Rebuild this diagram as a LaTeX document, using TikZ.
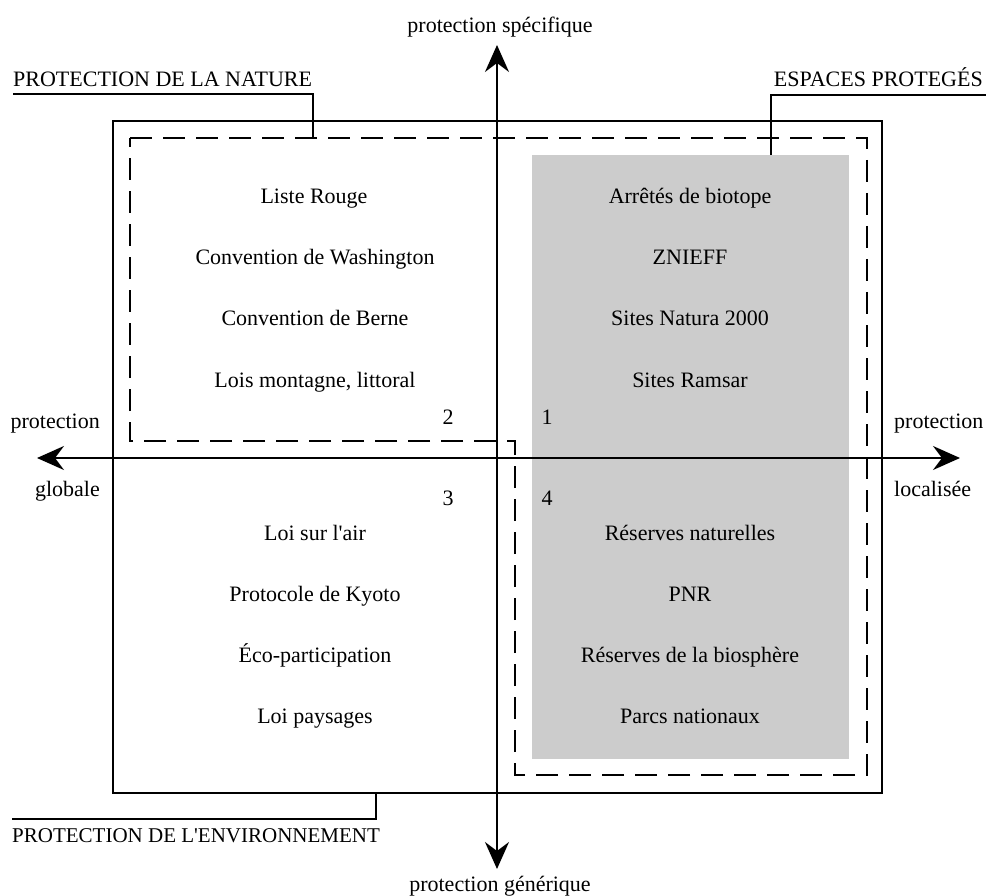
\documentclass[tikz,border=0pt]{standalone}
\usepackage{fontspec}
\setmainfont{Liberation Serif}[Ligatures=TeXOff]
\usetikzlibrary{arrows.meta}
\definecolor{greyfill}{HTML}{CCCCCC}
\tikzset{
  txt/.style={inner sep=0pt, anchor=base, font=\fontsize{22}{24}\selectfont},
  axis/.style={line width=2.2pt, -{Stealth[length=27pt,width=24pt,inset=9pt]}},
  frame/.style={line width=1.4pt},
  dashbox/.style={line width=1.4pt, dash pattern=on 22pt off 11pt},
  leader/.style={line width=1.4pt}
}
\begin{document}
\begin{tikzpicture}[x=1pt,y=-1pt]
\useasboundingbox (0,0) rectangle (986,896);
% grey area
\fill[greyfill] (532,155) rectangle (849,759);
% outer frame
\draw[frame] (113,121) rectangle (882,793);
% dashed region
\draw[dashbox] (130,138) -- (867,138) -- (867,775) -- (515,775) -- (515,441) -- (130,441) -- cycle;
% axes
\coordinate (o) at (497,458);
\coordinate (xl) at (37,458);
\coordinate (xr) at (960,458);
\coordinate (yt) at (497,45);
\coordinate (yb) at (497,869);
\draw[axis] (o) -- (yt);
\draw[axis] (o) -- (yb);
\draw[axis] (o) -- (xl);
\draw[axis] (o) -- (xr);
% axis labels
\node[txt] (ps) at (500,33) {protection spécifique};
\node[txt] (pg) at (500,891) {protection générique};
\node[txt, anchor=base east] (pgl1) at (100,428) {protection};
\node[txt, anchor=base east] (pgl2) at (100,496) {globale};
\node[txt, anchor=base west] (pl1) at (894,428) {protection};
\node[txt, anchor=base west] (pl2) at (894,496) {localisée};
% category labels with leaders
\node[txt, anchor=base west] (pn) at (13,87) {PROTECTION DE LA NATURE};
\coordinate (pna) at (13,94);
\coordinate (pnb) at (313,94);
\coordinate (pnc) at (313,138);
\draw[leader] (pna) -- (pnb) -- (pnc);
\node[txt, anchor=base east] (ep) at (983,87) {ESPACES PROTEGÉS};
\coordinate (epa) at (986,95);
\coordinate (epb) at (771,95);
\coordinate (epc) at (771,155);
\draw[leader] (epa) -- (epb) -- (epc);
\node[txt, anchor=base west, font=\fontsize{21}{23}\selectfont] (pe) at (12,842) {PROTECTION DE L'ENVIRONNEMENT};
\coordinate (pea) at (12,819);
\coordinate (peb) at (376,819);
\coordinate (pec) at (376,793);
\draw[leader] (pea) -- (peb) -- (pec);
% quadrant numbers
\node[txt] (n2) at (448,424) {2};
\node[txt] (n1) at (547,424) {1};
\node[txt] (n3) at (448,505) {3};
\node[txt] (n4) at (547,505) {4};
% quadrant 2
\node[txt] (a1) at (314,204) {Liste Rouge};
\node[txt] (a2) at (315,265) {Convention de Washington};
\node[txt] (a3) at (315,326) {Convention de Berne};
\node[txt] (a4) at (315,387) {Lois montagne, littoral};
% quadrant 1
\node[txt] (b1) at (690,204) {Arrêtés de biotope};
\node[txt] (b2) at (690,265) {ZNIEFF};
\node[txt] (b3) at (690,326) {Sites Natura 2000};
\node[txt] (b4) at (690,387) {Sites Ramsar};
% quadrant 3
\node[txt] (c1) at (315,540) {Loi sur l'air};
\node[txt] (c2) at (315,601) {Protocole de Kyoto};
\node[txt] (c3) at (315,662) {Éco-participation};
\node[txt] (c4) at (315,723) {Loi paysages};
% quadrant 4
\node[txt] (d1) at (690,540) {Réserves naturelles};
\node[txt] (d2) at (690,601) {PNR};
\node[txt] (d3) at (690,662) {Réserves de la biosphère};
\node[txt] (d4) at (690,723) {Parcs nationaux};
\end{tikzpicture}
\end{document}
